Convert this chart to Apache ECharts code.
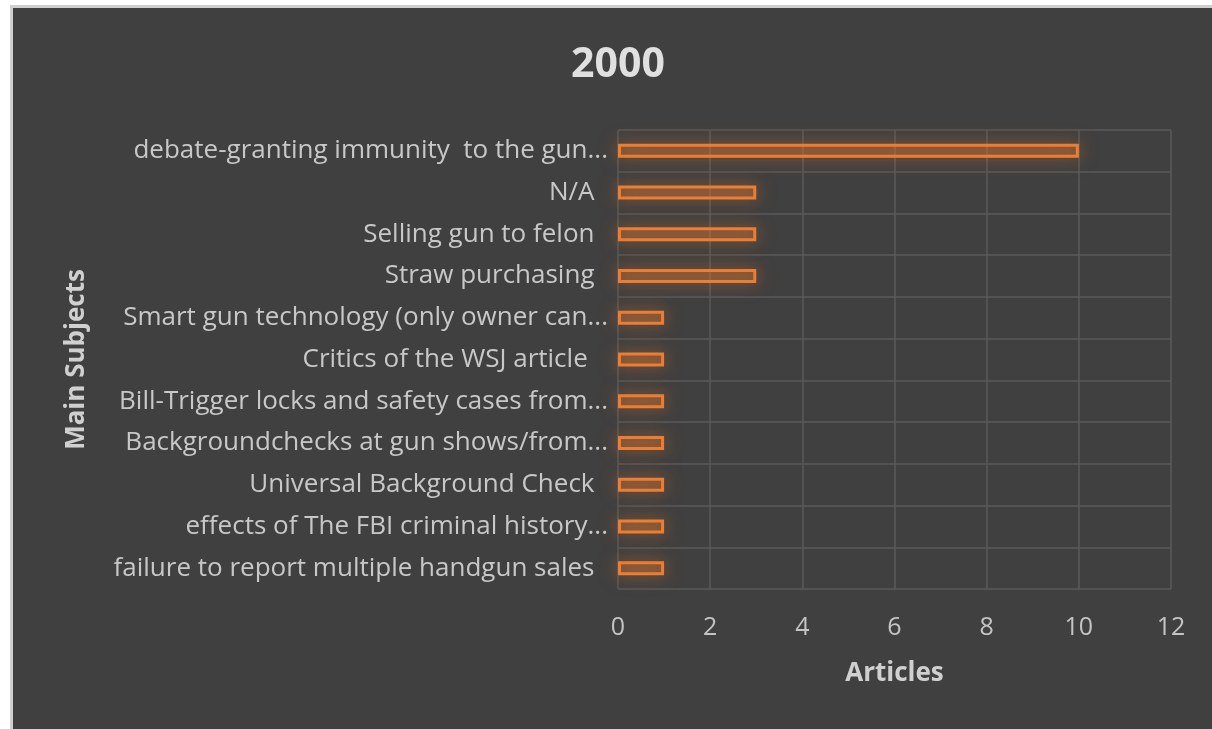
<!DOCTYPE html>
<html>
<head>
<meta charset="utf-8">
<script src="https://cdn.jsdelivr.net/npm/echarts@6/dist/echarts.min.js"></script>
<style>
  html, body { margin: 0; padding: 0; background: #ffffff; }
  #frame {
    position: absolute; left: 10px; top: 5px;
    border-left: 3px solid #cfcfcf; border-top: 3px solid #cfcfcf;
    background: #404040;
  }
  #chart { width: 1199px; height: 721px; }
</style>
</head>
<body>
<div id="frame"><div id="chart"></div></div>
<script>
// subjects, top to bottom as in the picture
const subjects = [
  "debate-granting immunity  to the gun...",
  "N/A  ",
  "Selling gun to felon  ",
  "Straw purchasing  ",
  "Smart gun technology (only owner can...",
  "Critics of the WSJ article   ",
  "Bill-Trigger locks and safety cases from...",
  "Backgroundchecks at gun shows/from...",
  "Universal Background Check  ",
  "effects of The FBI criminal history...",
  "failure to report multiple handgun sales  "
];
const articles = [10, 3, 3, 3, 1, 1, 1, 1, 1, 1, 1];
const valueTicks = [0, 12, 2]; // min, max, interval

const font = "'Open Sans', sans-serif";
const chart = echarts.init(document.getElementById("chart"));
chart.setOption({
  backgroundColor: "#404040",
  animation: false,
  title: {
    text: "2000",
    left: 600,
    top: 32,
    textAlign: "center",
    textStyle: { color: "#e0e0e0", fontSize: 41, fontWeight: "bold", fontFamily: font }
  },
  grid: { left: 605, right: 41, top: 122, bottom: 140, containLabel: false },
  xAxis: {
    type: "value",
    min: valueTicks[0],
    max: valueTicks[1],
    interval: valueTicks[2],
    name: "Articles",
    nameLocation: "middle",
    nameGap: 72,
    nameTextStyle: { color: "#d0d0d0", fontSize: 26, fontWeight: "bold", fontFamily: font },
    axisLine: { show: false },
    axisTick: { show: false },
    axisLabel: { color: "#c4c4c4", fontSize: 25, margin: 26, fontFamily: font },
    splitLine: { show: true, lineStyle: { color: "#5a5a5a", width: 1.5 } }
  },
  yAxis: {
    type: "category",
    inverse: true,
    data: subjects,
    name: "Main Subjects",
    nameLocation: "middle",
    nameRotate: 90,
    nameGap: 528,
    nameTextStyle: { color: "#d0d0d0", fontSize: 26, fontWeight: "bold", fontFamily: font },
    axisLine: { show: false },
    axisTick: { show: false },
    axisLabel: { color: "#c8c8c8", fontSize: 26, margin: 10, fontFamily: font },
    splitLine: { show: true, lineStyle: { color: "#5a5a5a", width: 1.5 } }
  },
  series: [{
    type: "bar",
    data: articles,
    barWidth: 14,
    itemStyle: {
      color: "rgba(237,125,49,0.28)",
      borderColor: "#ED7D31",
      borderWidth: 3,
      shadowColor: "rgba(237,125,49,0.6)",
      shadowBlur: 18
    }
  }]
});
</script>
</body>
</html>
